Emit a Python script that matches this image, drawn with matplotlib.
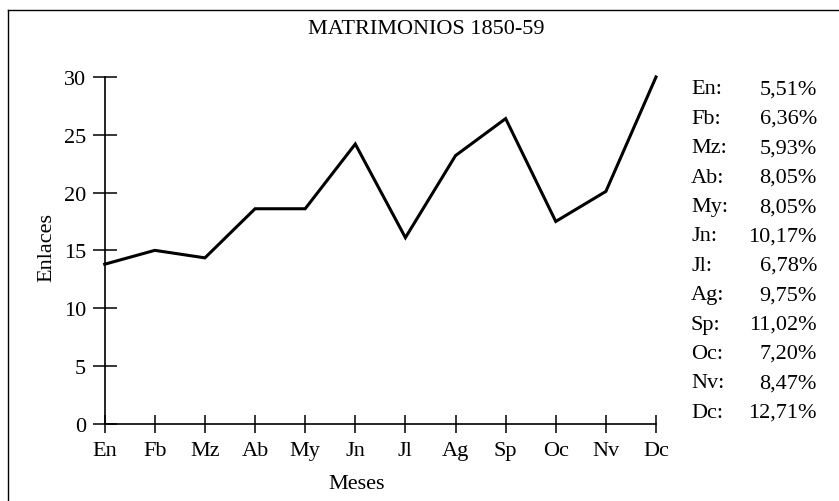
import matplotlib
matplotlib.use("Agg")
import matplotlib.pyplot as plt
from matplotlib.lines import Line2D

plt.rcParams['font.family'] = ['Liberation Serif', 'DejaVu Serif']

meses = ["En", "Fb", "Mz", "Ab", "My", "Jn", "Jl", "Ag", "Sp", "Oc", "Nv", "Dc"]
enlaces = [13.8, 15.0, 14.35, 18.6, 18.6, 24.2, 16.1, 23.2, 26.4, 17.5, 20.1, 30.0]
porcentajes = [5.51, 6.36, 5.93, 8.05, 8.05, 10.17, 6.78, 9.75, 11.02, 7.20, 8.47, 12.71]
yticks = [0, 5, 10, 15, 20, 25, 30]
titulo = "MATRIMONIOS 1850-59"

FS = 16
W, H = 839, 502
fig = plt.figure(figsize=(W / 100, H / 100), dpi=100)
ax = fig.add_axes([104.7 / W, 1 - 424.7 / H, (656 - 104.7) / W, (424.7 - 78) / H])

x = list(range(len(meses)))
ax.plot(x, enlaces, color="black", lw=2.2, solid_joinstyle="miter", clip_on=False)
ax.set_xlim(0, len(meses) - 1)
ax.set_ylim(0, 30)
ax.set_xticks(x)
ax.set_xticklabels(meses)
ax.set_yticks(yticks)
for s in ["top", "right"]:
    ax.spines[s].set_visible(False)
for s in ["left", "bottom"]:
    ax.spines[s].set_linewidth(1.2)
ax.tick_params(axis="y", direction="inout", length=17, width=1.1, labelsize=FS, pad=5)
ax.tick_params(axis="x", direction="inout", length=13, width=1.1, labelsize=FS, pad=6)

fig.text(47 / W, 1 - 248 / H, "Enlaces", fontsize=FS, ha="center", va="center", rotation=90)
fig.text(357 / W, 1 - 485 / H, "Meses", fontsize=FS, ha="center", va="center")
fig.text(426 / W, 1 - 30 / H, titulo, fontsize=FS, ha="center", va="center")

# frame lines (top and left)
fig.add_artist(Line2D([8 / W, 1.0], [1 - 11 / H, 1 - 11 / H], transform=fig.transFigure, color="black", lw=1.0))
fig.add_artist(Line2D([8 / W, 8 / W], [1 - 11 / H, 0.0], transform=fig.transFigure, color="black", lw=1.0))

y0, dy = 90, 29.39
for i, (m, p) in enumerate(zip(meses, porcentajes)):
    yy = 1 - (y0 + i * dy) / H
    fig.text(691 / W, yy, m + ":", fontsize=FS, ha="left", va="center")
    fig.text(817 / W, yy, f"{p:.2f}".replace(".", ",") + "%", fontsize=FS, ha="right", va="center")

fig.savefig("out.png", dpi=100)
